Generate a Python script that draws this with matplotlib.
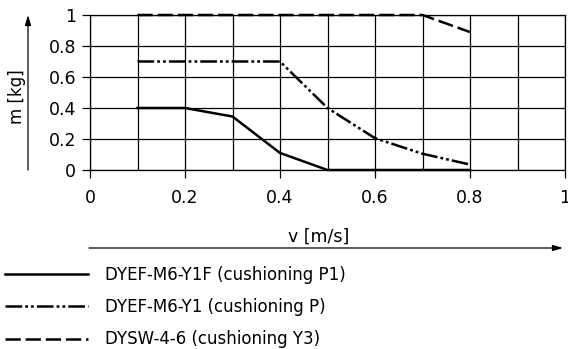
import numpy as np
import matplotlib
matplotlib.use("Agg")
import matplotlib.pyplot as plt
from matplotlib.lines import Line2D

# ---- data ----
v_p1 = [0.1, 0.2, 0.3, 0.4, 0.5, 0.8]
m_p1 = [0.4, 0.4, 0.345, 0.11, 0.0, 0.0]

v_p = [0.1, 0.4, 0.5, 0.6, 0.7, 0.8]
m_p = [0.7, 0.7, 0.4, 0.205, 0.105, 0.035]

v_y3 = [0.1, 0.7, 0.8]
m_y3 = [1.0, 1.0, 0.89]

labels = ["DYEF-M6-Y1F (cushioning P1)",
          "DYEF-M6-Y1 (cushioning P)",
          "DYSW-4-6 (cushioning Y3)"]

xticks = [0, 0.2, 0.4, 0.6, 0.8, 1]
xtick_labels = ["0", "0.2", "0.4", "0.6", "0.8", "1"]
yticks = [0, 0.2, 0.4, 0.6, 0.8, 1]
ytick_labels = ["0", "0.2", "0.4", "0.6", "0.8", "1"]

plt.rcParams['font.family'] = ['DejaVu Sans']
plt.rcParams['lines.scale_dashes'] = False

W, H = 568, 349
fig = plt.figure(figsize=(W / 100, H / 100), dpi=100)

def fx(px):
    return px / W

def fy(py):
    return 1 - py / H

ax = fig.add_axes([fx(90), fy(170), fx(565) - fx(90), fy(15) - fy(170)])

solid = '-'
dashdotdot = (0, (12, 2.2, 2, 2.2, 2, 2.2))
dashed = (0, (11, 3.5))

lw = 1.8
ax.plot(v_p1, m_p1, color='black', lw=lw, linestyle=solid, solid_joinstyle='miter',
        zorder=5, clip_on=False)
ax.plot(v_p, m_p, color='black', lw=lw, linestyle=dashdotdot, zorder=5, clip_on=False)
ax.plot(v_y3, m_y3, color='black', lw=lw, linestyle=dashed, zorder=5, clip_on=False)

ax.set_xlim(0, 1)
ax.set_ylim(0, 1)
ax.set_xticks(xticks)
ax.set_xticklabels(xtick_labels)
ax.set_xticks(np.arange(1, 11) / 10, minor=True)
ax.set_yticks(yticks)
ax.set_yticklabels(ytick_labels)

ax.grid(True, which='major', color='black', lw=0.9)
ax.grid(True, which='minor', axis='x', color='black', lw=0.9)
ax.tick_params(which='major', direction='out', length=6, width=0.9, color='black',
               labelsize=12.5, pad=4)
ax.tick_params(which='minor', length=0)
ax.tick_params(axis='x', pad=8)
for s in ax.spines.values():
    s.set_linewidth(0.9)
    s.set_color('black')
    s.set_zorder(2)

# axis arrows and labels
fig.add_artist(matplotlib.patches.FancyArrowPatch(
    (fx(28), fy(170)), (fx(28), fy(15)), transform=fig.transFigure,
    arrowstyle='-|>,head_length=6,head_width=1.8', color='black', lw=0.9,
    shrinkA=0, shrinkB=0))
fig.text(fx(17), fy(97), "m [kg]", rotation=90, ha='center', va='center', fontsize=12)

fig.add_artist(matplotlib.patches.FancyArrowPatch(
    (fx(89), fy(248)), (fx(563), fy(248)), transform=fig.transFigure,
    arrowstyle='-|>,head_length=6,head_width=1.8', color='black', lw=0.9,
    shrinkA=0, shrinkB=0))
fig.text(fx(319), fy(237), "v [m/s]", ha='center', va='center', fontsize=12.5)

handles = [Line2D([], [], color='black', lw=lw, linestyle=solid),
           Line2D([], [], color='black', lw=lw, linestyle=dashdotdot),
           Line2D([], [], color='black', lw=lw, linestyle=dashed)]
fig.legend(handles, labels, loc='upper left', bbox_to_anchor=(fx(5), fy(266)),
           frameon=False, fontsize=12, handlelength=5.0, handletextpad=1.0,
           labelspacing=0.85, borderpad=0, borderaxespad=0)

fig.savefig("out.png", dpi=100)
